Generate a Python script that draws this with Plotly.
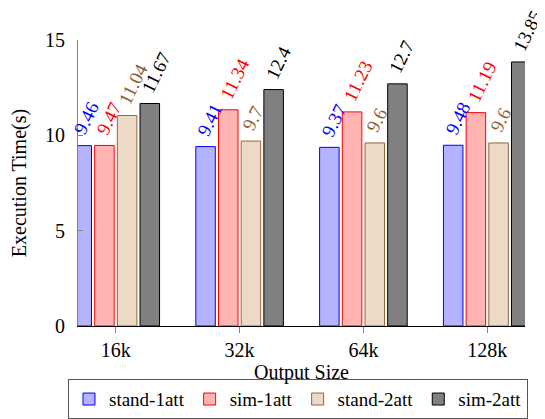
import plotly.graph_objects as go

categories = ["16k", "32k", "64k", "128k"]
series_names = ["stand-1att", "sim-1att", "stand-2att", "sim-2att"]
stand_1att = [9.46, 9.41, 9.37, 9.48]
sim_1att = [9.47, 11.34, 11.23, 11.19]
stand_2att = [11.04, 9.7, 9.6, 9.6]
sim_2att = [11.67, 12.4, 12.7, 13.85]
y_ticks = [0, 5, 10, 15]

series_values = [stand_1att, sim_1att, stand_2att, sim_2att]
fills = ["#B3B3FF", "#FFB3B3", "#ECD9C6", "#808080"]
borders = ["#0000FF", "#FF0000", "#996633", "#000000"]
label_colors = ["#0000FF", "#FF0000", "#8B5E34", "#000000"]

FONT = "Liberation Serif"
bargap = 0.267
slot = (1 - bargap) / len(series_names)

fig = go.Figure()
for name, vals, fc, bc in zip(series_names, series_values, fills, borders):
    fig.add_trace(go.Bar(
        x=categories, y=vals, name=name,
        marker=dict(color=fc, line=dict(color=bc, width=1)),
    ))

annotations = []
for j, (vals, col) in enumerate(zip(series_values, label_colors)):
    for i, v in enumerate(vals):
        annotations.append(dict(
            x=i + (j - 1.5) * slot, y=v, xref="x", yref="y",
            text=f"{v:g}", showarrow=False, textangle=-64,
            xanchor="left", yanchor="bottom", xshift=-15, yshift=5,
            font=dict(family=FONT, size=19, color=col),
        ))

# page body has an 8px margin, so the figure is 8px smaller than the window
fig.update_layout(
    width=537, height=411,
    margin=dict(l=70, r=20, t=32, b=93, autoexpand=False),
    paper_bgcolor="white", plot_bgcolor="white",
    barmode="group", bargap=bargap, bargroupgap=0.14,
    font=dict(family=FONT, size=20, color="black"),
    annotations=annotations,
    showlegend=True,
    legend=dict(
        orientation="h", x=-0.0224, xanchor="left", y=-0.186, yanchor="top",
        bgcolor="white", bordercolor="#555555", borderwidth=1,
        font=dict(family=FONT, size=19), itemwidth=30, tracegroupgap=0,
    ),
)
fig.update_xaxes(
    type="category", range=[-0.305, 3.305],
    showline=True, linecolor="black", linewidth=1,
    ticks="outside", ticklen=6, tickcolor="#808080",
    showgrid=False, zeroline=False,
    title=dict(text="Output Size", font=dict(size=20), standoff=3),
    tickfont=dict(size=20),
)
fig.update_yaxes(
    range=[0, 15], tickvals=y_ticks,
    showline=True, linecolor="#808080", linewidth=1,
    ticks="inside", ticklen=5, tickcolor="#808080",
    ticklabelstandoff=8,
    showgrid=False, zeroline=False,
    title=dict(text="Execution Time(s)", font=dict(size=20), standoff=14),
    tickfont=dict(size=20),
)

fig.write_html("out.html")
